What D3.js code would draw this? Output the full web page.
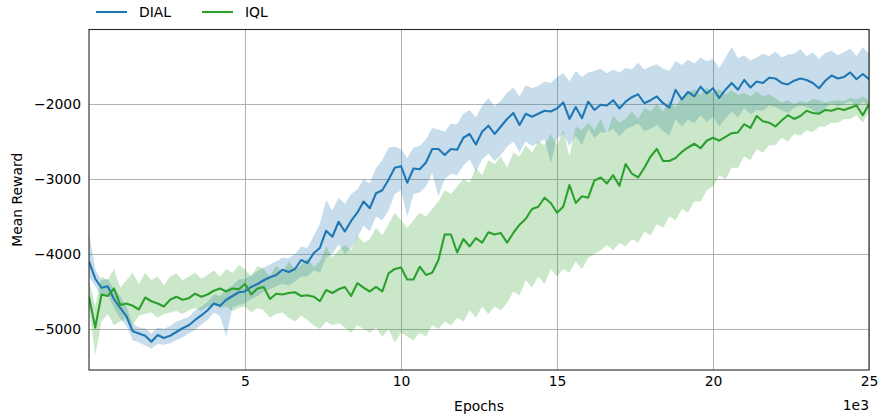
<!DOCTYPE html>
<html><head><meta charset="utf-8">
<script src="https://cdn.jsdelivr.net/npm/d3@7"></script>
<style>body{margin:0;background:#fff} text{font-family:"DejaVu Sans",sans-serif}</style>
</head><body><svg id="c" width="878" height="416"></svg>
<script>
const series = ["DIAL", "IQL"];
const colors = ["#1f77b4", "#2ca02c"];
const xTicks = [5000, 10000, 15000, 20000, 25000];
const yTicks = [-2000, -3000, -4000, -5000];
const epochStep = 200;

const dialMean = [-4100,-4330,-4450,-4430,-4600,-4720,-4830,-5030,-5060,-5090,
-5170,-5080,-5120,-5090,-5040,-4990,-4950,-4880,-4820,-4750,
-4660,-4690,-4610,-4560,-4510,-4500,-4440,-4400,-4350,-4310,
-4280,-4210,-4240,-4200,-4080,-4120,-3990,-3920,-3690,-3770,
-3570,-3700,-3560,-3450,-3300,-3390,-3190,-3150,-3010,-2850,
-2830,-3050,-2860,-2870,-2780,-2600,-2600,-2680,-2600,-2610,
-2450,-2400,-2540,-2370,-2290,-2400,-2300,-2200,-2120,-2280,
-2130,-2170,-2130,-2090,-2100,-2060,-1980,-2200,-2040,-2190,
-1970,-2080,-2010,-2020,-1950,-2060,-1970,-1910,-1870,-1990,
-1950,-1900,-1990,-2050,-1810,-1940,-1840,-1900,-1770,-1860,
-1790,-1920,-1810,-1720,-1810,-1680,-1780,-1700,-1720,-1650,
-1660,-1720,-1740,-1690,-1660,-1680,-1720,-1790,-1690,-1620,
-1660,-1640,-1580,-1670,-1600,-1670];

const dialHi = [-3720,-4200,-4350,-4330,-4470,-4560,-4700,-4930,-4980,-4990,
-5060,-4980,-5000,-4960,-4900,-4870,-4840,-4750,-4700,-4640,
-4540,-4560,-4470,-4420,-4340,-4330,-4280,-4230,-4180,-4140,
-4100,-4050,-4060,-4000,-3900,-3920,-3760,-3600,-3280,-3420,
-3250,-3330,-3200,-3140,-3000,-3060,-2850,-2750,-2580,-2570,
-2600,-2720,-2580,-2560,-2470,-2320,-2340,-2370,-2260,-2270,
-2130,-2080,-2180,-2020,-1920,-2030,-1960,-1850,-1780,-1900,
-1750,-1790,-1760,-1700,-1720,-1640,-1590,-1700,-1560,-1640,
-1580,-1560,-1530,-1590,-1540,-1580,-1520,-1540,-1450,-1540,
-1500,-1470,-1530,-1560,-1430,-1480,-1410,-1460,-1380,-1430,
-1400,-1520,-1380,-1240,-1390,-1350,-1420,-1380,-1330,-1360,
-1300,-1380,-1340,-1330,-1270,-1360,-1310,-1400,-1320,-1290,
-1350,-1310,-1260,-1360,-1240,-1330];

const dialLo = [-4300,-4430,-4560,-4530,-4720,-4860,-4960,-5150,-5180,-5220,
-5260,-5200,-5210,-5190,-5150,-5110,-5060,-5010,-4940,-4880,
-4780,-4830,-5100,-4710,-4680,-4660,-4600,-4560,-4500,-4470,
-4430,-4400,-4420,-4370,-4300,-4300,-4220,-4250,-4050,-4000,
-3870,-4000,-3920,-3780,-3620,-3700,-3500,-3550,-3420,-3200,
-3150,-3500,-3200,-3180,-3100,-2920,-3230,-3000,-2930,-2950,
-2820,-2740,-2900,-2740,-2660,-2760,-2680,-2570,-2500,-2640,
-2500,-2560,-2520,-2470,-2790,-2460,-2400,-2560,-2420,-2550,
-2330,-2450,-2380,-2380,-2330,-2430,-2340,-2300,-2260,-2360,
-2330,-2280,-2360,-2420,-2200,-2300,-2210,-2260,-2150,-2240,
-2170,-2300,-2190,-2100,-2180,-2050,-2140,-2080,-2090,-2020,
-2040,-2080,-2120,-2050,-2020,-2040,-2080,-2150,-2050,-1990,
-2030,-2000,-1960,-2040,-1970,-2030];

const iqlMean = [-4570,-4980,-4540,-4560,-4460,-4680,-4660,-4690,-4740,-4580,
-4630,-4660,-4700,-4610,-4570,-4610,-4590,-4530,-4570,-4540,
-4490,-4460,-4500,-4460,-4470,-4400,-4540,-4460,-4440,-4600,
-4530,-4540,-4520,-4510,-4560,-4550,-4570,-4630,-4480,-4520,
-4470,-4440,-4560,-4390,-4450,-4500,-4440,-4500,-4260,-4200,
-4180,-4340,-4340,-4170,-4280,-4250,-4080,-3740,-3740,-3980,
-3800,-3900,-3790,-3850,-3710,-3740,-3720,-3850,-3720,-3610,
-3530,-3400,-3370,-3250,-3320,-3450,-3370,-3080,-3320,-3230,
-3250,-3020,-2980,-3060,-2950,-3090,-2800,-2930,-2980,-2850,
-2700,-2600,-2760,-2760,-2720,-2640,-2580,-2530,-2590,-2490,
-2450,-2490,-2440,-2390,-2380,-2270,-2320,-2160,-2230,-2250,
-2300,-2220,-2150,-2200,-2160,-2090,-2120,-2130,-2080,-2090,
-2060,-2080,-2050,-2020,-2150,-2000];

const iqlHi = [-4350,-4700,-4300,-4350,-4200,-4450,-4350,-4250,-4400,-4250,
-4350,-4300,-4420,-4300,-4260,-4350,-4300,-4250,-4330,-4280,
-4220,-4300,-4200,-4250,-4150,-4200,-4300,-4160,-4200,-4300,
-4150,-4250,-4100,-4200,-4150,-4050,-4180,-4100,-3900,-4050,
-3950,-3880,-3950,-3750,-3850,-3800,-3650,-3750,-3600,-3450,
-3550,-3650,-3550,-3450,-3500,-3400,-3300,-3150,-3200,-3100,
-3000,-3050,-2850,-2950,-2750,-2800,-2700,-2850,-2650,-2700,
-2550,-2650,-2500,-2550,-2400,-2550,-2350,-2700,-2300,-2350,
-2250,-2350,-2200,-2400,-2150,-2250,-2200,-2100,-2200,-2050,
-2100,-2000,-2100,-1950,-2050,-1900,-1850,-1800,-1880,-1780,
-1850,-1800,-1870,-1820,-1880,-1850,-1900,-1830,-1900,-1870,
-1920,-1980,-1950,-2000,-1960,-1980,-1930,-1950,-1980,-1960,
-1950,-1960,-1920,-1940,-1900,-1950];

const iqlLo = [-4700,-5350,-4900,-4800,-4950,-4900,-4850,-4950,-4820,-4800,
-4780,-4850,-4800,-4780,-4760,-4800,-4750,-4720,-4760,-4700,
-4680,-4720,-4700,-4760,-4720,-4700,-4780,-4720,-4750,-4850,
-4800,-4780,-4850,-4900,-4820,-4880,-4950,-5000,-4900,-4950,
-4920,-4980,-5050,-4950,-5000,-5050,-4980,-5100,-5000,-5180,
-5050,-5100,-5150,-5050,-5100,-4950,-5000,-4900,-4950,-4850,
-4900,-4750,-4850,-4700,-4800,-4700,-4750,-4650,-4500,-4550,
-4350,-4450,-4300,-4400,-4200,-4300,-4200,-4250,-4100,-4200,
-4050,-4000,-3950,-3880,-3950,-3850,-3900,-3800,-3850,-3700,
-3750,-3600,-3650,-3500,-3550,-3400,-3450,-3300,-3300,-3150,
-3100,-2950,-3000,-2850,-2850,-2700,-2750,-2600,-2650,-2550,
-2550,-2450,-2500,-2400,-2420,-2350,-2380,-2300,-2300,-2250,
-2250,-2200,-2200,-2150,-2250,-2100];

const epochs = d3.range(dialMean.length).map(i => i * epochStep);
const data = [
  {name: series[0], color: colors[0], mean: dialMean, lo: dialLo, hi: dialHi},
  {name: series[1], color: colors[1], mean: iqlMean, lo: iqlLo, hi: iqlHi}
];

const L = 89, R = 869, T = 29.5, B = 370;
const svg = d3.select("#c");
const x = d3.scaleLinear().domain([0, 25000]).range([L, R]);
const y = d3.scaleLinear().domain([-5547, -1007]).range([B, T]);

// grid + x axis
const gx = svg.append("g").attr("transform", `translate(0,${B})`)
  .call(d3.axisBottom(x).tickValues(xTicks).tickFormat(d => d / 1000)
    .tickSize(-(B - T)).tickPadding(6));
gx.select(".domain").remove();
gx.selectAll("line").attr("stroke", "#b0b0b0").attr("stroke-width", 1);
gx.selectAll("text").attr("font-size", 13.9).attr("fill", "#000");

const gy = svg.append("g").attr("transform", `translate(${L},0)`)
  .call(d3.axisLeft(y).tickValues(yTicks).tickFormat(d => d3.format("d")(d).replace("-", "\u2212"))
    .tickSize(-(R - L)).tickPadding(8));
gy.select(".domain").remove();
gy.selectAll("line").attr("stroke", "#b0b0b0").attr("stroke-width", 1);
gy.selectAll("text").attr("font-size", 13.9).attr("fill", "#000");

const clip = svg.append("clipPath").attr("id", "pc").append("rect")
  .attr("x", L).attr("y", T).attr("width", R - L).attr("height", B - T);
const plot = svg.append("g").attr("clip-path", "url(#pc)");

const area = d3.area().x((d, i) => x(epochs[i]));
data.forEach(s => {
  plot.append("path")
    .datum(s.mean)
    .attr("d", d3.area()
      .x((d, i) => x(epochs[i]))
      .y0((d, i) => y(s.lo[i]))
      .y1((d, i) => y(s.hi[i])))
    .attr("fill", s.color).attr("fill-opacity", 0.25);
});
data.forEach(s => {
  plot.append("path")
    .datum(s.mean)
    .attr("d", d3.line().x((d, i) => x(epochs[i])).y(d => y(d)))
    .attr("fill", "none").attr("stroke", s.color).attr("stroke-width", 2.1)
    .attr("stroke-linejoin", "round");
});

// frame
svg.append("rect").attr("x", L).attr("y", T).attr("width", R - L).attr("height", B - T)
  .attr("fill", "none").attr("stroke", "#262626").attr("stroke-width", 1.1);

// labels
svg.append("text").attr("x", (L + R) / 2).attr("y", 411).attr("text-anchor", "middle")
  .attr("font-size", 13.9).text("Epochs");
svg.append("text").attr("x", R).attr("y", 410).attr("text-anchor", "end")
  .attr("font-size", 13.9).text("1e3");
svg.append("text").attr("transform", `translate(22,${(T + B) / 2}) rotate(-90)`)
  .attr("text-anchor", "middle").attr("font-size", 13.9).text("Mean Reward");

// legend
const legX = [96, 202];
data.forEach((s, i) => {
  svg.append("line").attr("x1", legX[i]).attr("x2", legX[i] + 31).attr("y1", 12).attr("y2", 12)
    .attr("stroke", s.color).attr("stroke-width", 2.1);
  svg.append("text").attr("x", legX[i] + 43).attr("y", 17).attr("font-size", 13.9).text(s.name);
});
</script></body></html>
